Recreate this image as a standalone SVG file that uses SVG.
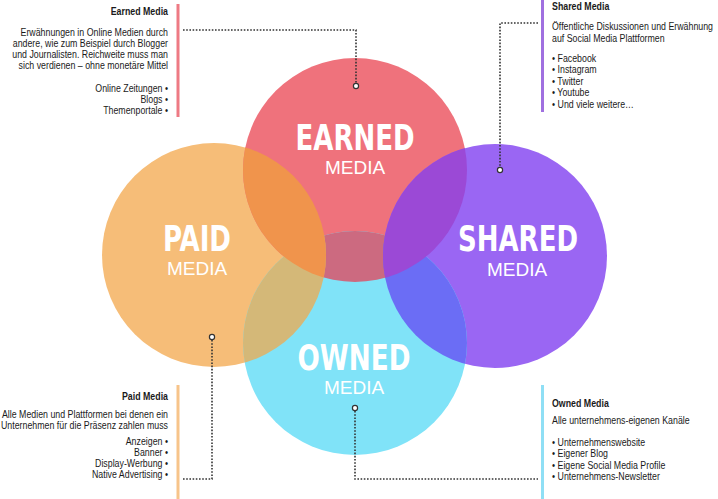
<svg xmlns="http://www.w3.org/2000/svg" width="718" height="499" viewBox="0 0 718 499">
<style>
.big{font-family:"DejaVu Sans Condensed","Liberation Sans",sans-serif;font-weight:bold;font-size:36px;fill:#fff;text-anchor:middle}
.sub{font-family:"Liberation Sans","Arial",sans-serif;font-size:19px;fill:#fff;text-anchor:middle}
.t{font-family:"Liberation Sans","Arial",sans-serif;font-size:10.5px;fill:#1a1a1a}
.h{font-weight:bold}
.r{text-anchor:end}
.dot{fill:none;stroke:#333;stroke-width:1.6;stroke-dasharray:1.6 1.6}
.pin{fill:#fff;stroke:#333;stroke-width:1.2}
</style>
<defs>
<clipPath id="cE"><circle cx="355" cy="170" r="112"/></clipPath>
<clipPath id="cP"><circle cx="214" cy="255" r="112"/></clipPath>
<clipPath id="cS"><circle cx="495" cy="256" r="112"/></clipPath>
</defs>
<rect width="718" height="499" fill="#fff"/>
<g id="circles">
<circle id="paid-circle" cx="214" cy="255" r="112" fill="#f6bd78"/>
<circle id="earned-circle" cx="355" cy="170" r="112" fill="#ef727c"/>
<circle id="shared-circle" cx="495" cy="256" r="112" fill="#9a66f3"/>
<circle id="owned-circle" cx="355" cy="343" r="112" fill="#80e3f8"/>
<circle cx="355" cy="343" r="112" fill="#cc6a80" clip-path="url(#cE)"/>
<circle cx="355" cy="343" r="112" fill="#d4b878" clip-path="url(#cP)"/>
<circle cx="355" cy="343" r="112" fill="#6b6df5" clip-path="url(#cS)"/>
<circle cx="214" cy="255" r="112" fill="#f0944c" clip-path="url(#cE)"/>
<circle cx="495" cy="256" r="112" fill="#9b49d6" clip-path="url(#cE)"/>
</g>
<g id="bars">
<rect x="176.5" y="4" width="3" height="113" fill="#ee7a84"/>
<rect x="541" y="0" width="3" height="112" fill="#a070e0"/>
<rect x="176.5" y="385" width="3" height="114" fill="#f7c48a"/>
<rect x="541" y="385" width="3" height="114" fill="#8fdff5"/>
</g>
<g id="connectors">
<polyline class="dot" points="183,30 356,30 356,83"/>
<polyline class="dot" points="538,23 500,23 500,167"/>
<polyline class="dot" points="212,340 212,479 183,479"/>
<polyline class="dot" points="355,411 355,479 538,479"/>
<circle class="pin" cx="356" cy="86" r="2.6"/>
<circle class="pin" cx="500" cy="170" r="2.6"/>
<circle class="pin" cx="212" cy="337" r="2.6"/>
<circle class="pin" cx="355" cy="408" r="2.6"/>
</g>
<g id="earned">
<text class="big" x="355" y="150" textLength="119" lengthAdjust="spacingAndGlyphs">EARNED</text>
<text class="sub" x="355" y="174">MEDIA</text>
<g transform="translate(168 0) scale(0.84 1)">
<text x="0" y="15" class="t r h">Earned Media</text>
<text x="0" y="36" class="t r">Erwähnungen in Online Medien durch</text>
<text x="0" y="47" class="t r">andere, wie zum Beispiel durch Blogger</text>
<text x="0" y="58" class="t r">und Journalisten. Reichweite muss man</text>
<text x="0" y="69" class="t r">sich verdienen – ohne monetäre Mittel</text>
<text x="0" y="92" class="t r">Online Zeitungen •</text>
<text x="0" y="103" class="t r">Blogs •</text>
<text x="0" y="114" class="t r">Themenportale •</text>
</g>
</g>
<g id="paid">
<text class="big" x="197" y="251" textLength="68" lengthAdjust="spacingAndGlyphs">PAID</text>
<text class="sub" x="197" y="275">MEDIA</text>
<g transform="translate(168 0) scale(0.84 1)">
<text x="0" y="400" class="t r h">Paid Media</text>
<text x="0" y="418" class="t r">Alle Medien und Plattformen bei denen ein</text>
<text x="0" y="429" class="t r">Unternehmen für die Präsenz zahlen muss</text>
<text x="0" y="445" class="t r">Anzeigen •</text>
<text x="0" y="456" class="t r">Banner •</text>
<text x="0" y="467" class="t r">Display-Werbung •</text>
<text x="0" y="478" class="t r">Native Advertising •</text>
</g>
</g>
<g id="shared">
<text class="big" x="518" y="251" textLength="120" lengthAdjust="spacingAndGlyphs">SHARED</text>
<text class="sub" x="517" y="276">MEDIA</text>
<g transform="translate(552 0) scale(0.84 1)">
<text x="0" y="10" class="t h">Shared Media</text>
<text x="0" y="30" class="t">Öffentliche Diskussionen und Erwähnung</text>
<text x="0" y="42" class="t">auf Social Media Plattformen</text>
<text x="0" y="62" class="t">• Facebook</text>
<text x="0" y="73.5" class="t">• Instagram</text>
<text x="0" y="85" class="t">• Twitter</text>
<text x="0" y="96.5" class="t">• Youtube</text>
<text x="0" y="108" class="t">• Und viele weitere…</text>
</g>
</g>
<g id="owned">
<text class="big" x="354" y="370" textLength="113" lengthAdjust="spacingAndGlyphs">OWNED</text>
<text class="sub" x="354" y="394">MEDIA</text>
<g transform="translate(552 0) scale(0.84 1)">
<text x="0" y="407" class="t h">Owned Media</text>
<text x="0" y="424" class="t">Alle unternehmens-eigenen Kanäle</text>
<text x="0" y="446" class="t">• Unternehmenswebsite</text>
<text x="0" y="457.5" class="t">• Eigener Blog</text>
<text x="0" y="469" class="t">• Eigene Social Media Profile</text>
<text x="0" y="480.5" class="t">• Unternehmens-Newsletter</text>
</g>
</g>
</svg>
